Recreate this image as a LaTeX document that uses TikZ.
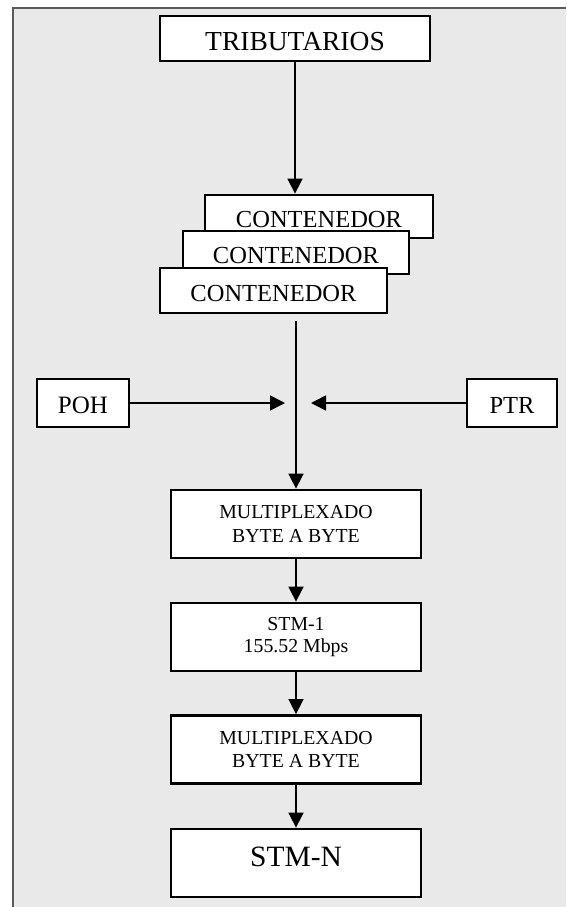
\documentclass[tikz,border=0pt]{standalone}
\usepackage{fontspec}
\setmainfont{Liberation Serif}
\usetikzlibrary{arrows.meta}

\definecolor{panelgray}{HTML}{E9E9E9}
\definecolor{framegray}{HTML}{5A5A5A}

\tikzset{
  blockbox/.style={draw=black, line width=2.8pt, fill=white, inner sep=0pt,
    align=center, text=black},
  flowline/.style={line width=1.6pt, draw=black},
  flowarrow/.style={flowline, -{Triangle[length=15pt,width=15pt]}},
}

\begin{document}
\begin{tikzpicture}[x=1pt,y=-1pt]
  \useasboundingbox (0,0) rectangle (566,907);
  \fill[white] (0,0) rectangle (566,907);

  % shaded panel and its frame
  \fill[panelgray] (12.5,8.5) rectangle (566,907);
  \draw[framegray, line width=2pt] (12.5,907) -- (12.5,8.5) -- (566,8.5);

  % source block
  \node[blockbox, minimum width=270pt, minimum height=45pt,
        font=\fontsize{27.5}{31}\selectfont, text height=24pt, text depth=0pt]
        (trib) at (295,38.5) {TRIBUTARIOS};

  % stacked containers, back to front
  \node[blockbox, minimum width=228pt, minimum height=43pt,
        font=\fontsize{24.5}{28}\selectfont, text height=21pt, text depth=0pt]
        (cont3) at (319,216.5) {CONTENEDOR};
  \node[blockbox, minimum width=226pt, minimum height=43pt,
        font=\fontsize{24.5}{28}\selectfont, text height=21pt, text depth=0pt]
        (cont2) at (296,252.5) {CONTENEDOR};
  \node[blockbox, minimum width=227pt, minimum height=45pt,
        font=\fontsize{24.5}{28}\selectfont, text height=21pt, text depth=0pt]
        (cont1) at (273.5,290.5) {CONTENEDOR};

  % overhead inputs
  \node[blockbox, minimum width=92pt, minimum height=48pt,
        font=\fontsize{25}{29}\selectfont, text height=21.5pt, text depth=0pt]
        (poh) at (83,403) {POH};
  \node[blockbox, minimum width=90pt, minimum height=48pt,
        font=\fontsize{24.5}{28}\selectfont, text height=21.5pt, text depth=0pt]
        (ptr) at (512,403) {PTR};

  % multiplexing chain
  \node[blockbox, minimum width=250pt, minimum height=68pt,
        font=\fontsize{19.8}{23.3}\selectfont]
        (mux1) at (296,524) {MULTIPLEXADO\\BYTE A BYTE};
  \node[blockbox, minimum width=250pt, minimum height=68pt,
        font=\fontsize{19.8}{22.5}\selectfont]
        (stm1) at (296,637) {STM-1\\155.52 Mbps};
  \node[blockbox, minimum width=250pt, minimum height=68pt,
        font=\fontsize{19.8}{23.3}\selectfont]
        (mux2) at (296,749.5) {MULTIPLEXADO\\BYTE A BYTE};
  \node[blockbox, minimum width=250pt, minimum height=68pt,
        font=\fontsize{29.5}{34}\selectfont, text height=19.5pt, text depth=12pt]
        (stmn) at (296,863) {STM-N};

  % junction points on the main path
  \coordinate (trunk) at (296,321);
  \coordinate (tipL) at (285,403);
  \coordinate (tipR) at (311,403);

  % connectors
  \draw[flowarrow] (trib.south) -- (trib.south |- cont3.north);
  \draw[flowarrow] (trunk) -- (mux1.north);
  \draw[flowarrow] (poh.east) -- (tipL);
  \draw[flowarrow] (ptr.west) -- (tipR);
  \draw[flowarrow] (mux1.south) -- (stm1.north);
  \draw[flowarrow] (stm1.south) -- (mux2.north);
  \draw[flowarrow] (mux2.south) -- (stmn.north);
\end{tikzpicture}
\end{document}
